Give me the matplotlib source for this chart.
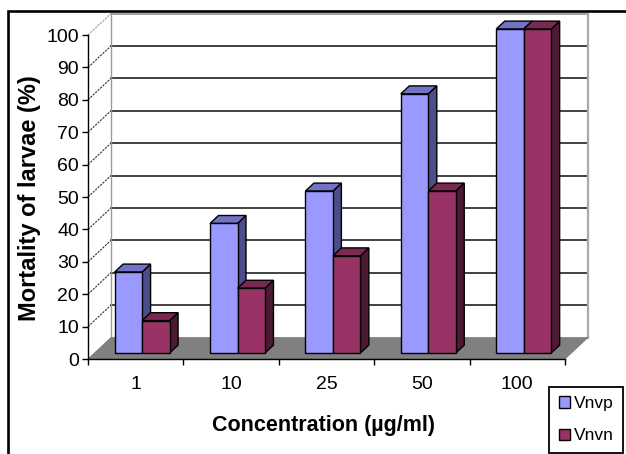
import numpy as np
import matplotlib
matplotlib.use("Agg")
import matplotlib.pyplot as plt
from matplotlib.patches import Polygon, Rectangle
from matplotlib import font_manager as fm

# data
categories = ["1", "10", "25", "50", "100"]
vnvp = [25, 40, 50, 80, 100]
vnvn = [10, 20, 30, 50, 100]
series_names = ["Vnvp", "Vnvn"]
y_ticks = list(range(0, 101, 10))


def has_font(name):
    try:
        fm.findfont(fm.FontProperties(family=name), fallback_to_default=False)
        return True
    except ValueError:
        return False


NARROW = "Liberation Sans Narrow" if has_font("Liberation Sans Narrow") else "Liberation Sans"
plt.rcParams["font.family"] = [NARROW, "DejaVu Sans"]

W, H = 626, 454
fig = plt.figure(figsize=(W / 100, H / 100), dpi=100)
# front plane of the 3D box, in pixels
x0, x1, y0, y1 = 88, 565, 359, 35
ax = fig.add_axes([x0 / W, 1 - y0 / H, (x1 - x0) / W, (y0 - y1) / H])
ax.set_xlim(-0.5, len(categories) - 0.5)
ax.set_ylim(0, 100)
ax.patch.set_visible(False)

# depth of the box in data units
DX, DY = 0.24, 6.6
xl, xr = -0.5, len(categories) - 0.5

# back wall + side wall
ax.add_patch(Polygon([(xl + DX, DY), (xr + DX, DY), (xr + DX, 100 + DY), (xl + DX, 100 + DY)],
                     closed=True, facecolor="white", edgecolor="none", zorder=0.2, clip_on=False))
for v in y_ticks[1:]:
    col = "#999999" if v == 100 else "#333333"
    ax.plot([xl + DX, xr + DX], [v + DY, v + DY], color=col, lw=1.3, zorder=0.5, clip_on=False)
    ax.plot([xl, xl + DX], [v, v + DY], color=col, lw=0.8, ls=(0, (2, 1)), zorder=0.5, clip_on=False)
ax.plot([xl + DX, xl + DX], [DY, 100 + DY], color="#999999", lw=1, zorder=0.5, clip_on=False)
ax.plot([xr + DX, xr + DX], [DY, 100 + DY], color="#aaaaaa", lw=1.6, zorder=0.5, clip_on=False)

# floor
ax.add_patch(Polygon([(xl, 0), (xr, 0), (xr + DX, DY), (xl + DX, DY)], closed=True,
                     facecolor="#808080", edgecolor="#707070", lw=0.5, zorder=0.6, clip_on=False))

# bars
faces = {
    "Vnvp": ("#9999ff", "#7373c6", "#4d4d8a"),
    "Vnvn": ("#993366", "#7a2952", "#4d1a33"),
}
bw = 0.288
f0, fd = 0.28, 0.37
ox, oy = f0 * DX, f0 * DY
bx, by = fd * DX, fd * DY
z = 1
for i in range(len(categories)):
    for j, (name, vals) in enumerate(zip(series_names, [vnvp, vnvn])):
        front, top, side = faces[name]
        left = i - bw + j * bw + ox
        right = left + bw
        b = oy
        t = oy + vals[i]
        kw = dict(closed=True, edgecolor="black", lw=1, clip_on=False, joinstyle="miter")
        ax.add_patch(Polygon([(right, b), (right + bx, b + by), (right + bx, t + by), (right, t)],
                             facecolor=side, zorder=z, **kw))
        ax.add_patch(Polygon([(left, t), (right, t), (right + bx, t + by), (left + bx, t + by)],
                             facecolor=top, zorder=z, **kw))
        ax.add_patch(Polygon([(left, b), (right, b), (right, t), (left, t)],
                             facecolor=front, zorder=z, **kw))
        z += 0.01

# axes
for s in ["top", "right"]:
    ax.spines[s].set_visible(False)
for s in ["left", "bottom"]:
    ax.spines[s].set_color("black")
    ax.spines[s].set_linewidth(1)
ax.set_yticks(y_ticks)
ax.tick_params(axis="y", direction="out", length=4, width=1, pad=2.5, labelsize=14)
ax.set_xticks(np.arange(len(categories) + 1) - 0.5)
ax.set_xticklabels([])
ax.set_xticks(np.arange(len(categories)), minor=True)
ax.set_xticklabels(categories, minor=True)
ax.tick_params(axis="x", which="major", direction="out", length=4, width=1)
ax.tick_params(axis="x", which="minor", length=0, pad=12.5, labelsize=14)

fig.text(324 / W, 1 - 426 / H, "Concentration (µg/ml)", ha="center", va="center",
         fontsize=15.5, fontweight="bold")
fig.text(30 / W, 1 - 198 / H, "Mortality of larvae (%)", ha="center", va="center",
         rotation=90, fontsize=17, fontweight="bold", family=["Liberation Sans", "DejaVu Sans"])

# legend
handles = [Rectangle((0, 0), 1, 1, facecolor=faces[n][0], edgecolor="black", lw=1) for n in series_names]
leg = fig.legend(handles, series_names, loc="lower right", bbox_to_anchor=(623 / W, 1 - 453 / H),
                 fontsize=12.5, frameon=True, fancybox=False, edgecolor="black", framealpha=1,
                 handlelength=0.65, handleheight=0.65, handletextpad=0.2, labelspacing=1.0,
                 borderpad=0.55, borderaxespad=0)
leg.get_frame().set_linewidth(1.3)

# outer frame (only left and top edges are inside the picture)
fig.add_artist(Rectangle((7.5 / W, -0.1), 1.2, 1 - 11.3 / H + 0.1, transform=fig.transFigure,
                         facecolor="none", edgecolor="black", lw=1.9))

fig.savefig("out.png", dpi=100)
